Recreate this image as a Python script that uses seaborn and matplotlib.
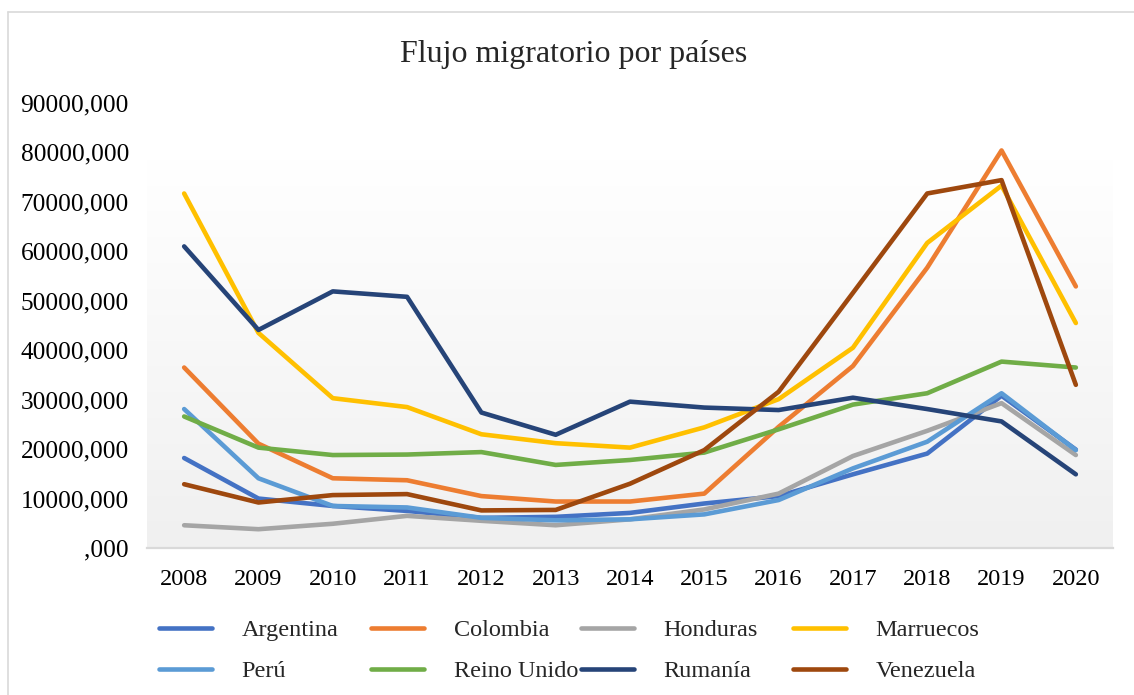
import matplotlib
matplotlib.use("Agg")
import numpy as np
import pandas as pd
import matplotlib.pyplot as plt
from matplotlib.lines import Line2D
from matplotlib.ticker import FuncFormatter
import seaborn as sns

# data
years = list(range(2008, 2021))
argentina = [18200, 10000, 8500, 7500, 6100, 6300, 7100, 9000, 10500, 14900, 19100, 30800, 19900]
colombia = [36500, 21100, 14100, 13700, 10500, 9400, 9400, 11000, 24500, 36800, 56700, 80400, 52900]
honduras = [4600, 3800, 4900, 6500, 5500, 4600, 5800, 7800, 11000, 18600, 23700, 29300, 18800]
marruecos = [71700, 43500, 30300, 28500, 23000, 21200, 20300, 24400, 30100, 40500, 61700, 73300, 45500]
peru = [28100, 14100, 8500, 8200, 6100, 5600, 5800, 6800, 9700, 16100, 21500, 31300, 19800]
reino_unido = [26600, 20300, 18800, 18900, 19400, 16800, 17800, 19300, 24000, 29000, 31300, 37700, 36500]
rumania = [61000, 44100, 51900, 50800, 27400, 22900, 29600, 28400, 27900, 30400, 28100, 25600, 14900]
venezuela = [12900, 9200, 10700, 10900, 7600, 7700, 13000, 19800, 31600, 51600, 71700, 74400, 33000]

countries = ["Argentina", "Colombia", "Honduras", "Marruecos",
             "Perú", "Reino Unido", "Rumanía", "Venezuela"]
series = [argentina, colombia, honduras, marruecos, peru, reino_unido, rumania, venezuela]
colors = ["#4472C4", "#ED7D31", "#A5A5A5", "#FFC000",
          "#5B9BD5", "#70AD47", "#264478", "#9E480E"]
y_ticks = list(range(0, 90001, 10000))

df = pd.DataFrame([
    {"Año": y, "País": c, "Flujo": v}
    for c, vals in zip(countries, series)
    for y, v in zip(years, vals)
])

sns.set_style("white")
plt.rcParams["font.family"] = ["Liberation Serif", "DejaVu Serif"]

W, H = 1134, 695
fig = plt.figure(figsize=(W / 100, H / 100), dpi=100)
ax = fig.add_axes([147 / W, 1 - 548 / H, (1113 - 147) / W, (548 - 103) / H])

# plot area gradient fill (white at top to light gray at bottom)
grad = np.linspace(0, 1, 256).reshape(-1, 1)
cmap = matplotlib.colors.LinearSegmentedColormap.from_list("g", ["#f0f0f0", "#ffffff"])
ax.imshow(grad, cmap=cmap, origin="lower", aspect="auto",
          extent=[0, 1, 0, (548 - 159) / (548 - 103)],
          transform=ax.transAxes, zorder=0)

sns.lineplot(data=df, x="Año", y="Flujo", hue="País", hue_order=countries,
             palette=dict(zip(countries, colors)), linewidth=3.3, ax=ax,
             solid_capstyle="round", solid_joinstyle="round", zorder=3)

ax.set_xlim(years[0] - 0.5, years[-1] + 0.5)
ax.set_ylim(0, 90000)
ax.set_xticks(years)
ax.set_yticks(y_ticks)


def fmt(v, pos):
    s = f"{v:.3f}".replace(".", ",")
    if s.startswith("0,"):
        s = s[1:]
    return s


ax.yaxis.set_major_formatter(FuncFormatter(fmt))
ax.set_xlabel("")
ax.set_ylabel("")
ax.tick_params(axis="both", length=0, labelsize=17.5, colors="#000000")
ax.tick_params(axis="y", labelsize=18.3)
ax.tick_params(axis="x", pad=15)
ax.tick_params(axis="y", pad=13)
for side in ["left", "right", "top"]:
    ax.spines[side].set_visible(False)
ax.spines["bottom"].set_color("#d9d9d9")
ax.spines["bottom"].set_linewidth(1.6)
ax.grid(False)

# legend in 4 fixed-width columns, like Excel
handles, labels = ax.get_legend_handles_labels()
ax.get_legend().remove()
col_x = [159, 371, 581, 793]
for j, x in enumerate(col_x):
    fig.legend(handles=[handles[j], handles[j + 4]], labels=[labels[j], labels[j + 4]],
               loc="upper left", bbox_to_anchor=(x / W, 1 - 619 / H),
               frameon=False, handlelength=2.2, handletextpad=1.2,
               borderpad=0, borderaxespad=0, labelspacing=0.8, fontsize=17.5)

fig.text(573.5 / W, 1 - 62 / H, "Flujo migratorio por países",
         ha="center", va="baseline", fontsize=23)

# chart border (left and top edges are visible)
fig.add_artist(Line2D([8 / W, 8 / W], [0, 1 - 12 / H], color="#d9d9d9", lw=1.2))
fig.add_artist(Line2D([8 / W, 1], [1 - 12 / H, 1 - 12 / H], color="#d9d9d9", lw=1.2))

fig.savefig("out.png", dpi=100)
